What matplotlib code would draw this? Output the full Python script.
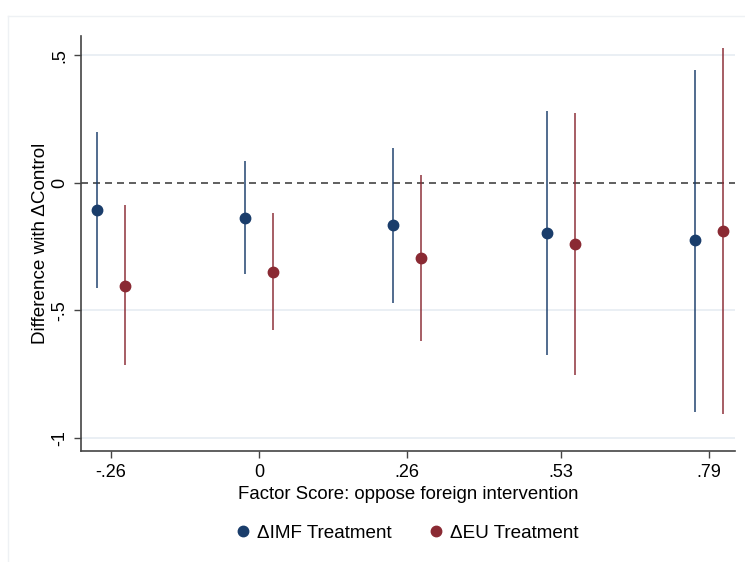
import matplotlib
matplotlib.use("Agg")
import matplotlib.pyplot as plt
from matplotlib.lines import Line2D

plt.rcParams['font.family'] = ['Liberation Sans', 'DejaVu Sans']

# factor score values (tick positions) and their labels
scores = [-0.26, 0.0, 0.26, 0.53, 0.79]
score_labels = ['-.26', '0', '.26', '.53', '.79']

# IMF treatment vs control
imf_est = [-0.106, -0.137, -0.166, -0.196, -0.226]
imf_lo = [-0.413, -0.357, -0.471, -0.676, -0.898]
imf_hi = [0.200, 0.084, 0.137, 0.281, 0.442]

# EU treatment vs control
eu_est = [-0.403, -0.349, -0.295, -0.242, -0.188]
eu_lo = [-0.716, -0.576, -0.621, -0.754, -0.906]
eu_hi = [-0.089, -0.119, 0.030, 0.272, 0.528]

navy = '#1a3d6b'
maroon = '#8a2a33'
shift = 0.025

fig = plt.figure(figsize=(7.45, 5.62), dpi=100)
ax = fig.add_axes([0.1087, 0.1975, 0.878, 0.739])

# grid lines like Stata's s2color
for y in [0.5, -0.5, -1.0]:
    ax.axhline(y, color='#e6ecf2', lw=1.2, zorder=0)
ax.axhline(0, color='#444444', lw=1.2, ls=(0, (4.2, 3)), zorder=1)

for vals, lo, hi, col, d in [(imf_est, imf_lo, imf_hi, navy, -shift),
                             (eu_est, eu_lo, eu_hi, maroon, shift)]:
    xs = [s + d for s in scores]
    ax.vlines(xs, lo, hi, color=col, lw=1.25, alpha=0.85, zorder=2)
    ax.plot(xs, vals, 'o', color=col, ms=7.5, zorder=3, ls='none')

ax.set_xlim(-0.3126, 0.836)
ax.set_ylim(-1.051, 0.576)
ax.set_xticks(scores)
ax.set_xticklabels(score_labels, fontsize=13)
ax.set_yticks([0.5, 0, -0.5, -1])
ax.set_yticklabels(['.5', '0', '-.5', '-1'], fontsize=13, rotation=90, va='center')
ax.tick_params(direction='out', length=5, width=1, color='#444444', pad=4)

for s in ['top', 'right']:
    ax.spines[s].set_visible(False)
for s in ['left', 'bottom']:
    ax.spines[s].set_color('#444444')
    ax.spines[s].set_linewidth(1.2)

ax.set_xlabel('Factor Score: oppose foreign intervention', fontsize=13.4, labelpad=4)
ax.set_ylabel('Difference with \u0394Control', fontsize=13.6, labelpad=2)

# faint graph region frame (top and left edges visible)
fig.add_artist(Line2D([8 / 745, 1], [1 - 16 / 562] * 2, transform=fig.transFigure,
                      color='#eef1f4', lw=1))
fig.add_artist(Line2D([8 / 745] * 2, [0, 1 - 16 / 562], transform=fig.transFigure,
                      color='#eef1f4', lw=1))

handles = [Line2D([], [], marker='o', color=navy, ls='none', ms=7.5),
           Line2D([], [], marker='o', color=maroon, ls='none', ms=7.5)]
fig.legend(handles, ['\u0394IMF Treatment', '\u0394EU Treatment'],
           loc='center', bbox_to_anchor=(0.545, 1 - 533 / 562), ncol=2,
           frameon=False, fontsize=13.6, handletextpad=0.2, columnspacing=1.9,
           handlelength=1.0)

fig.savefig('out.png', dpi=100, facecolor='white')
